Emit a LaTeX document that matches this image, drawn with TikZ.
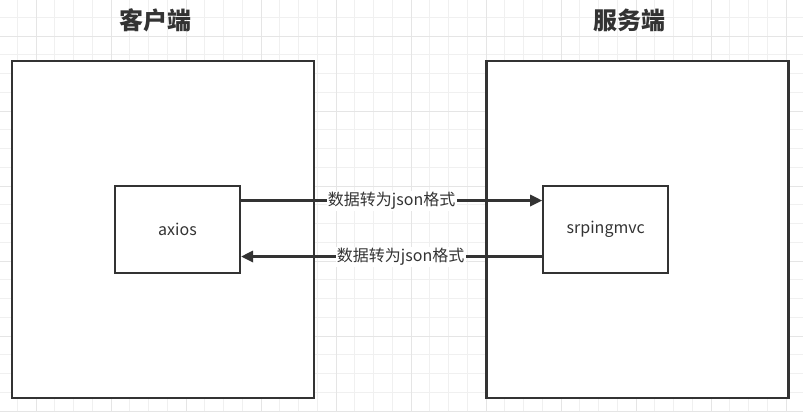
\documentclass[tikz,border=0pt]{standalone}
\usepackage{fontspec}
\setmainfont{Noto Sans CJK SC}
\usetikzlibrary{arrows.meta}

\tikzset{
  gridminor/.style={draw=black!6, line width=0.75pt},
  gridmajor/.style={draw=black!10, line width=0.75pt},
  side/.style={draw=black!80, line width=1.7pt, fill=white, rectangle,
    minimum width=226.5pt, minimum height=252.75pt, inner sep=0pt},
  part/.style={draw=black!80, line width=1.7pt, fill=white, rectangle,
    minimum width=93.75pt, minimum height=65.25pt,
    font=\fontsize{12}{14}\selectfont, text=black!80},
  title/.style={font=\fontsize{18}{20}\selectfont\bfseries, text=black!80},
  flow/.style={draw=black!80, line width=1.7pt, -{Triangle[length=9pt,width=8.5pt]}},
  msg/.style={fill=white, inner sep=1pt, font=\fontsize{12}{14}\selectfont, text=black!80}
}

\begin{document}
\begin{tikzpicture}[x=0.75pt,y=-0.75pt]
\useasboundingbox (0,0) rectangle (803,412);
\fill[white] (0,0) rectangle (803,412);
% grid
\foreach \i in {0,...,43}
  \draw[gridminor] ({-1.5+18.75*\i},0) -- ++(0,412);
\foreach \j in {0,...,22}
  \draw[gridminor] (0,{-1.5+18.75*\j}) -- ++(803,0);
\foreach \gx in {36,111,...,786}
  \draw[gridmajor] (\gx,0) -- ++(0,412);
\foreach \gy in {36,111,...,411}
  \draw[gridmajor] (0,\gy) -- ++(803,0);

% titles
\node[title] (clienttitle) at (155.5,20) {客户端};
\node[title] (servertitle) at (629,20) {服务端};

% outer boxes
\node[side] (client) at (163,229.5) {};
\node[side] (server) at (637.5,229.5) {};

% inner boxes
\node[part] (axios) at (177.5,229.5) {axios};
\node[part] (mvc) at (605.75,229.5) {srpingmvc};

% request / response
\coordinate (toprow) at (0,200.5);
\coordinate (lowrow) at (0,256.5);
\draw[flow] (axios.east |- toprow) -- node[msg] {数据转为json格式} (mvc.west |- toprow);
\draw[flow] (mvc.west |- lowrow) -- node[msg,pos=0.47] {数据转为json格式} (axios.east |- lowrow);
\end{tikzpicture}
\end{document}
